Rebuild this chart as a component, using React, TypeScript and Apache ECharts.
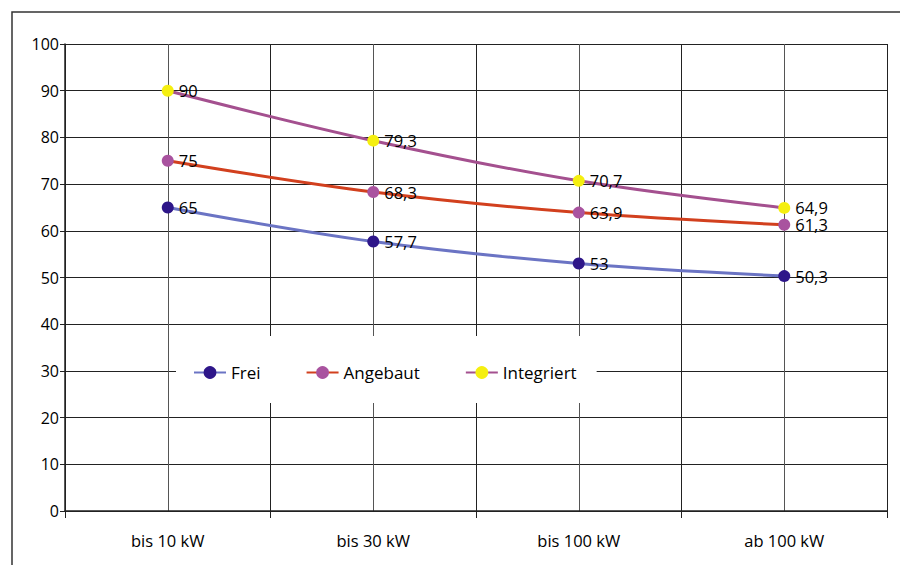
import React, { useEffect, useRef } from "react";
import * as echarts from "echarts";

const categories = ["bis 10 kW", "bis 30 kW", "bis 100 kW", "ab 100 kW"];
const frei = [65, 57.7, 53, 50.3];
const angebaut = [75, 68.3, 63.9, 61.3];
const integriert = [90, 79.3, 70.7, 64.9];
const yTicks = { min: 0, max: 100, interval: 10 };

const FONT = "Open Sans";

function mkSeries(name: string, data: number[], lineColor: string, markerColor: string) {
  return {
    name,
    type: "line",
    xAxisIndex: 0,
    data,
    smooth: 0.35,
    symbol: "circle",
    symbolSize: 12,
    lineStyle: { color: lineColor, width: 3 },
    itemStyle: { color: markerColor, borderWidth: 0 },
    label: {
      show: true,
      position: "right",
      distance: 5,
      color: "#000",
      fontSize: 16.5,
      lineHeight: 16,
      fontFamily: FONT,
      formatter: (p: any) => String(p.value).replace(".", ","),
    },
    labelLayout: { hideOverlap: false },
    z: 3,
  };
}

export default function App() {
  const ref = useRef<HTMLDivElement>(null);
  useEffect(() => {
    document.body.style.margin = "0";
    const chart = echarts.init(ref.current!, undefined, { renderer: "svg" });
    chart.setOption({
      animation: false,
      backgroundColor: "#fff",
      textStyle: { fontFamily: FONT },
      grid: { left: 65, right: 13, top: 44, bottom: 54 },
      graphic: [
        {
          type: "rect",
          shape: { x: 12, y: 12, width: 950, height: 620 },
          style: { fill: "none", stroke: "#333", lineWidth: 1.5 },
          silent: true,
        },
      ],
      legend: {
        left: 176,
        top: 336,
        padding: [28, 20, 22, 17],
        backgroundColor: "#fff",
        itemGap: 45,
        itemWidth: 32,
        itemHeight: 16,
        textStyle: { color: "#000", fontSize: 17, fontFamily: FONT },
        data: ["Frei", "Angebaut", "Integriert"],
        z: 10,
      },
      xAxis: [
        {
          type: "category",
          data: categories,
          boundaryGap: true,
          axisLine: { show: true, lineStyle: { color: "#222", width: 1.5 } },
          axisTick: { show: true, length: 7, lineStyle: { color: "#222" } },
          axisLabel: { color: "#000", fontSize: 16.5, fontFamily: FONT, margin: 21 },
          splitLine: { show: true, lineStyle: { color: "#222", width: 1 } },
          z: 2,
        },
        {
          type: "value",
          min: 0,
          max: 8,
          interval: 1,
          show: true,
          position: "bottom",
          axisLine: { show: false },
          axisTick: { show: false },
          axisLabel: { show: false },
          splitLine: { show: true, lineStyle: { color: "#555", width: 1 } },
        },
      ],
      yAxis: {
        type: "value",
        ...yTicks,
        axisLine: { show: true, lineStyle: { color: "#222", width: 1.5 } },
        axisTick: { show: true, length: 5, lineStyle: { color: "#222" } },
        axisLabel: { color: "#000", fontSize: 16, fontFamily: FONT, margin: 6 },
        splitLine: { show: true, lineStyle: { color: "#222", width: 1 } },
      },
      series: [
        mkSeries("Frei", frei, "#6b74c4", "#2e1689"),
        mkSeries("Angebaut", angebaut, "#d2401e", "#a9539f"),
        mkSeries("Integriert", integriert, "#a4508f", "#f5ef10"),
      ],
    });
    return () => chart.dispose();
  }, []);
  return <div ref={ref} style={{ width: 900, height: 565 }} />;
}
